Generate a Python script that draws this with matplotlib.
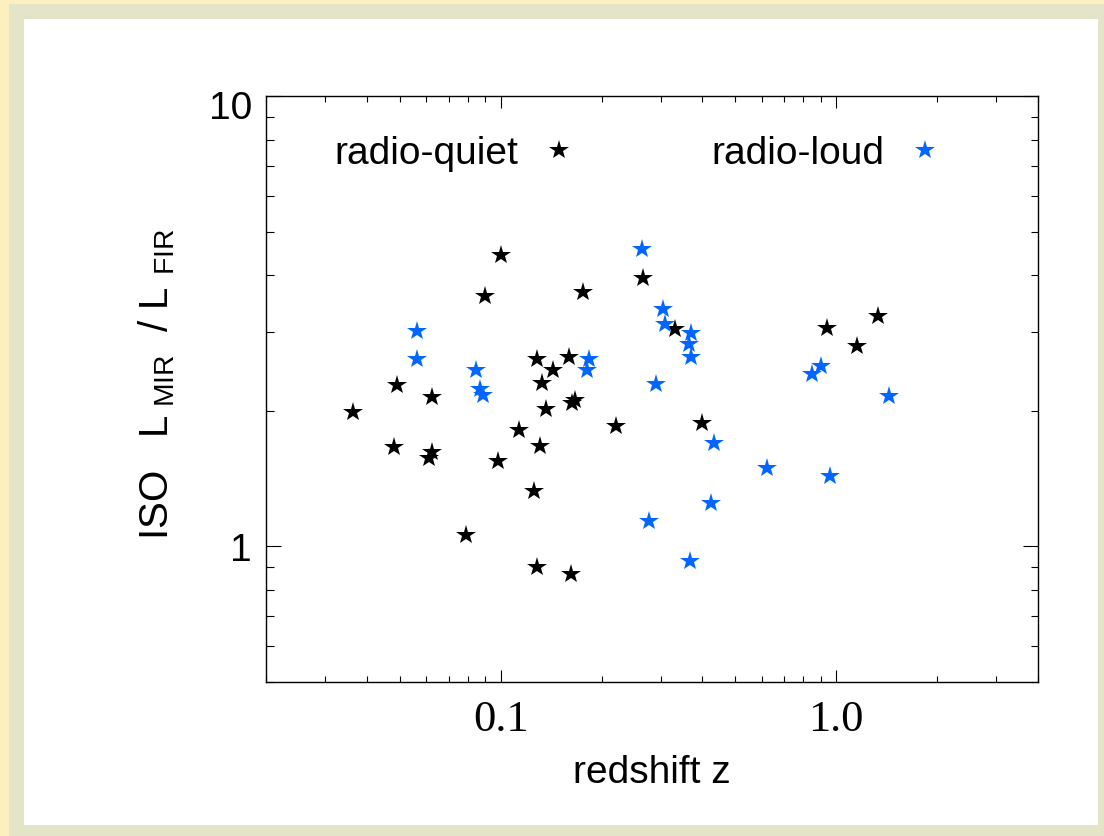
import matplotlib
matplotlib.use('Agg')
import matplotlib.pyplot as plt
from matplotlib.patches import Rectangle
from matplotlib.transforms import ScaledTranslation
from matplotlib.ticker import FixedLocator, FixedFormatter, NullFormatter, LogLocator

plt.rcParams['font.family'] = ['Liberation Sans', 'DejaVu Sans']
plt.rcParams['mathtext.fontset'] = 'custom'
plt.rcParams['mathtext.rm'] = 'Liberation Sans'
plt.rcParams['mathtext.it'] = 'Liberation Sans:italic'

# radio-quiet objects (black)
rq_z = [0.0363, 0.0490, 0.0480, 0.0627, 0.0627, 0.0611, 0.100, 0.0896, 0.0787,
        0.0980, 0.1139, 0.1289, 0.1334, 0.1370, 0.1438, 0.1315, 0.1262, 0.1289,
        0.1605, 0.1672, 0.1638, 0.1766, 0.1627, 0.2214, 0.2665, 0.3318, 0.3991,
        0.940, 1.155, 1.334]
rq_ratio = [1.99, 2.28, 1.66, 2.15, 1.62, 1.57, 4.44, 3.60, 1.06,
            1.55, 1.81, 2.61, 2.31, 2.02, 2.46, 1.67, 1.33, 0.90,
            2.63, 2.11, 2.08, 3.68, 0.87, 1.85, 3.95, 3.04, 1.88,
            3.06, 2.78, 3.25]

# radio-loud objects (blue)
rl_z = [0.0562, 0.0562, 0.0848, 0.0866, 0.0884, 0.1840, 0.1815, 0.2647, 0.3056,
        0.3098, 0.3702, 0.3651, 0.3702, 0.2912, 0.4335, 0.2776, 0.4246, 0.3677,
        0.6232, 0.848, 0.902, 0.960, 1.438]
rl_ratio = [3.01, 2.61, 2.46, 2.24, 2.17, 2.61, 2.46, 4.58, 3.37,
            3.12, 2.97, 2.82, 2.63, 2.29, 1.70, 1.14, 1.25, 0.93,
            1.49, 2.41, 2.51, 1.43, 2.16]

W, H = 1104, 837
fig = plt.figure(figsize=(W / 100, H / 100), dpi=100)
fig.patch.set_facecolor('#fdf0c0')
fig.add_artist(Rectangle((9 / W, 0), 1 - 9 / W, 1 - 5 / H, transform=fig.transFigure,
                         facecolor='#e4e4c9', edgecolor='none', zorder=-10))
fig.add_artist(Rectangle((24 / W, 11 / H), (1098 - 24) / W, (826 - 20) / H,
                         transform=fig.transFigure, facecolor='white',
                         edgecolor='none', zorder=-9))

ax = fig.add_axes([266 / W, 1 - 683 / H, 772 / W, 586 / H])
ax.set_xscale('log')
ax.set_yscale('log')

ax.plot(rq_z, rq_ratio, ls='none', marker='*', ms=15, color='black',
        markeredgewidth=0, label='radio-quiet')
ax.plot(rl_z, rl_ratio, ls='none', marker='*', ms=15, color='#0066ff',
        markeredgewidth=0, label='radio-loud')

ax.set_xlim(0.02, 4)
ax.set_ylim(0.5, 10)

ax.xaxis.set_major_locator(FixedLocator([0.1, 1.0]))
ax.xaxis.set_major_formatter(FixedFormatter(['0.1', '1.0']))
ax.xaxis.set_minor_locator(LogLocator(base=10, subs=range(2, 10)))
ax.xaxis.set_minor_formatter(NullFormatter())
ax.yaxis.set_major_locator(FixedLocator([1, 10]))
ax.yaxis.set_major_formatter(FixedFormatter(['1', '10']))
ax.yaxis.set_minor_locator(LogLocator(base=10, subs=range(2, 10)))
ax.yaxis.set_minor_formatter(NullFormatter())

ax.tick_params(which='both', direction='in', top=True, right=True, width=0.8)
ax.tick_params(axis='x', which='major', length=8.6, pad=12)
ax.tick_params(axis='x', which='minor', length=4.3)
ax.tick_params(axis='y', which='major', length=10.8, pad=10, labelsize=28)
ax.tick_params(axis='y', which='minor', length=5.4)
for lab in ax.get_xticklabels():
    lab.set_fontfamily('Liberation Serif')
    lab.set_fontsize(32)
for sp in ax.spines.values():
    sp.set_linewidth(1.0)

# top label "10" sits a little below its tick in the original
top_tick = ax.yaxis.get_major_ticks(2)[1]
top_tick.label1.set_transform(top_tick.label1.get_transform()
                              + ScaledTranslation(0, -0.08, fig.dpi_scale_trans))

ax.set_xlabel('redshift z', fontsize=28)
ax.xaxis.set_label_coords(0.5, -0.123)

fig.text(157 / W, 1 - 384 / H, r'ISO   L$_{\rm\ MIR}$  / L$_{\rm\ \,FIR}$', rotation=90,
         ha='center', va='center', fontsize=29)

ax.legend(loc='upper left', bbox_to_anchor=(0.089, 0.933), ncol=2, frameon=False,
          markerfirst=False, numpoints=1, fontsize=28, handlelength=1.0,
          handletextpad=0.55, columnspacing=3.4, borderaxespad=0, borderpad=0)

fig.savefig('out.png', dpi=100, facecolor=fig.get_facecolor())
